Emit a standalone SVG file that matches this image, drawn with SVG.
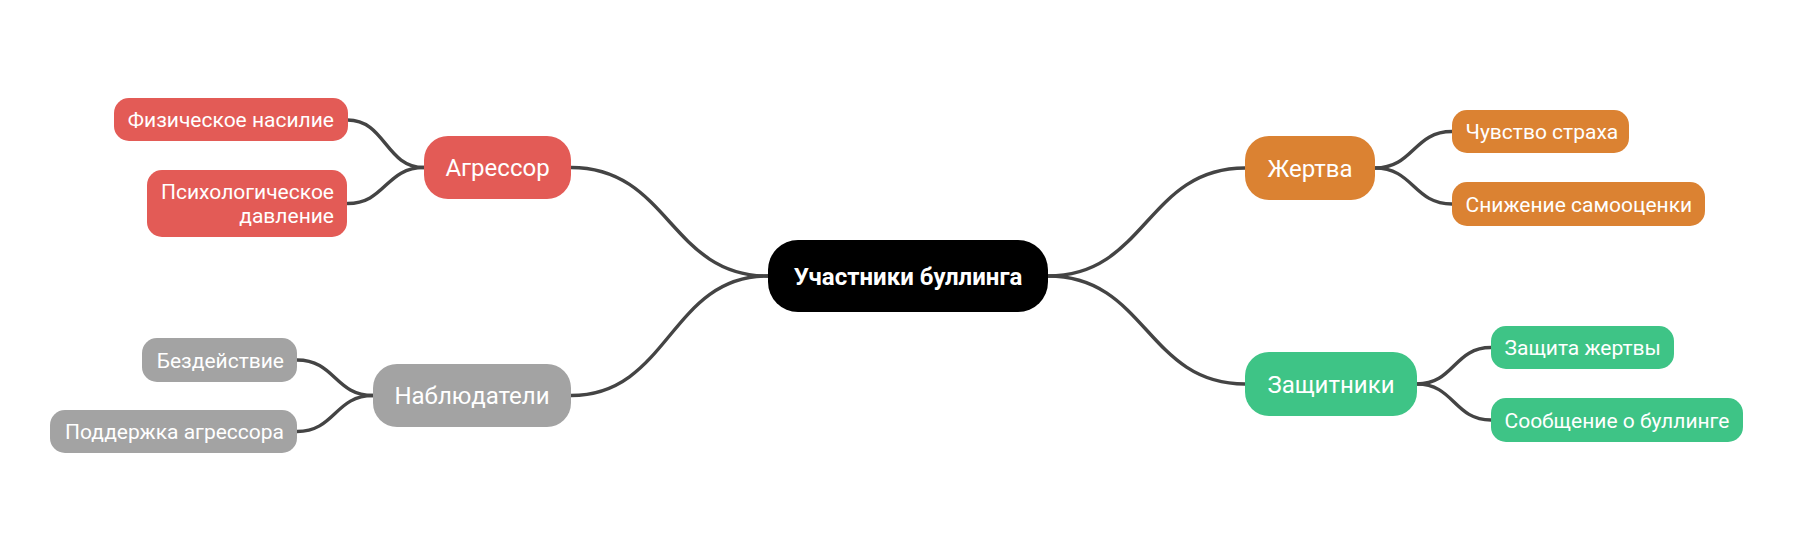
<svg xmlns="http://www.w3.org/2000/svg" width="1795" height="552" viewBox="0 0 1795 552">
<style>
.bg{fill:#ffffff}
.c{fill:none;stroke:#444444;stroke-width:3.4;stroke-linecap:round}
.t{font-family:Roboto,"Noto Sans","Liberation Sans",sans-serif;fill:#ffffff}
.leaf{font-size:21px}
.mid{font-size:24px}
.root{font-size:24px;font-weight:bold}
.red{fill:#E35B56}
.org{fill:#DB8232}
.grn{fill:#3EC486}
.gry{fill:#A3A3A3}
</style>
<rect class="bg" x="0" y="0" width="1795" height="552"/>
<g id="connectors">
<path class="c" d="M768,276 C669.5,276 669.5,167.5 571,167.5"/>
<path class="c" d="M768,276 C669.5,276 669.5,395.5 571,395.5"/>
<path class="c" d="M1048,276 C1146.5,276 1146.5,168 1245,168"/>
<path class="c" d="M1048,276 C1146.5,276 1146.5,384 1245,384"/>
<path class="c" d="M424,167.5 C385.5,167.5 385.5,120 347.5,120"/>
<path class="c" d="M424,167.5 C385.5,167.5 385.5,203.5 347.5,203.5"/>
<path class="c" d="M373,395.5 C335,395.5 335,360 297,360"/>
<path class="c" d="M373,395.5 C335,395.5 335,431.5 297,431.5"/>
<path class="c" d="M1375,168 C1413.5,168 1413.5,131.5 1452,131.5"/>
<path class="c" d="M1375,168 C1413.5,168 1413.5,204 1452,204"/>
<path class="c" d="M1417,384 C1454,384 1454,347.5 1491,347.5"/>
<path class="c" d="M1417,384 C1454,384 1454,420 1491,420"/>
</g>
<g id="root">
<rect x="768" y="240" width="280" height="72" rx="30" fill="#000000"/>
<text class="t root" x="908" y="284.5" text-anchor="middle">Участники буллинга</text>
</g>
<g id="aggressor">
<rect class="red" x="424" y="136" width="147" height="63" rx="24"/>
<text class="t mid" x="497.5" y="176" text-anchor="middle">Агрессор</text>
</g>
<g id="physical">
<rect class="red" x="114" y="98" width="234" height="43" rx="15"/>
<text class="t leaf" x="334" y="127" text-anchor="end">Физическое насилие</text>
</g>
<g id="psych">
<rect class="red" x="147" y="170" width="200" height="67" rx="15"/>
<text class="t leaf" x="334" y="199" text-anchor="end">Психологическое</text>
<text class="t leaf" x="334" y="223" text-anchor="end">давление</text>
</g>
<g id="observers">
<rect class="gry" x="373" y="364" width="198" height="63" rx="24"/>
<text class="t mid" x="472" y="404" text-anchor="middle">Наблюдатели</text>
</g>
<g id="inaction">
<rect class="gry" x="142" y="338" width="155" height="44" rx="15"/>
<text class="t leaf" x="284" y="367.5" text-anchor="end">Бездействие</text>
</g>
<g id="support">
<rect class="gry" x="50" y="410" width="247" height="43" rx="15"/>
<text class="t leaf" x="284" y="439" text-anchor="end">Поддержка агрессора</text>
</g>
<g id="victim">
<rect class="org" x="1245" y="136" width="130" height="64" rx="24"/>
<text class="t mid" x="1310" y="176.5" text-anchor="middle">Жертва</text>
</g>
<g id="fear">
<rect class="org" x="1452" y="110" width="177" height="43" rx="15"/>
<text class="t leaf" x="1465.5" y="139">Чувство страха</text>
</g>
<g id="selfesteem">
<rect class="org" x="1452" y="182" width="253" height="44" rx="15"/>
<text class="t leaf" x="1465.5" y="211.5">Снижение самооценки</text>
</g>
<g id="defenders">
<rect class="grn" x="1245" y="352" width="172" height="64" rx="24"/>
<text class="t mid" x="1331" y="392.5" text-anchor="middle">Защитники</text>
</g>
<g id="protect">
<rect class="grn" x="1491" y="326" width="183" height="43" rx="15"/>
<text class="t leaf" x="1504.5" y="355">Защита жертвы</text>
</g>
<g id="report">
<rect class="grn" x="1491" y="398" width="252" height="44" rx="15"/>
<text class="t leaf" x="1504.5" y="427.5">Сообщение о буллинге</text>
</g>
</svg>
